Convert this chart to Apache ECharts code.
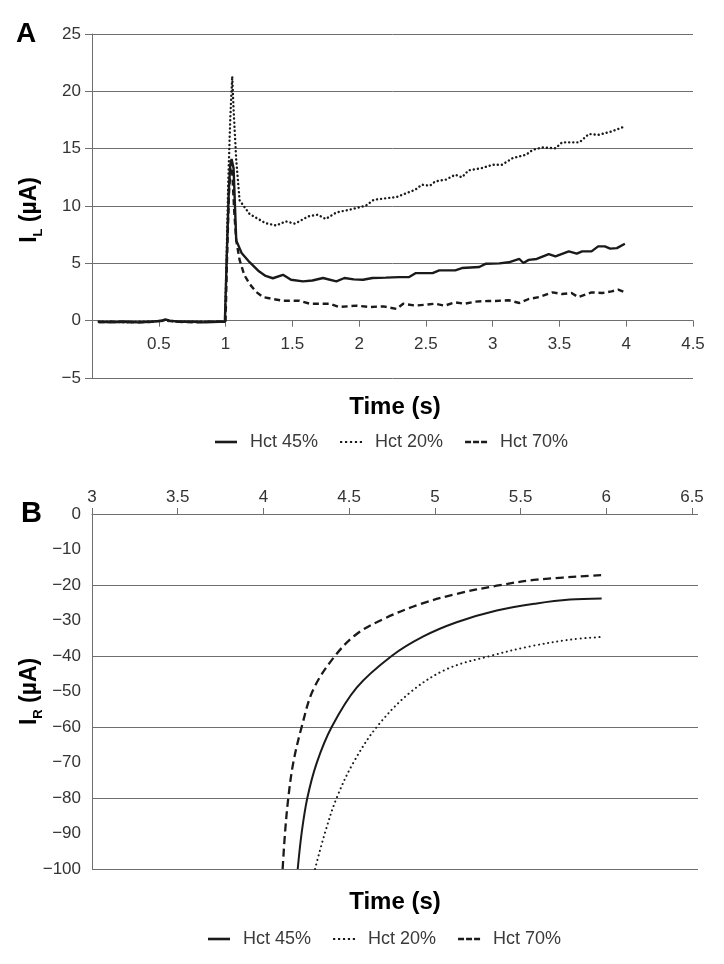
<!DOCTYPE html>
<html>
<head>
<meta charset="utf-8">
<script src="https://cdn.jsdelivr.net/npm/echarts@6/dist/echarts.min.js"></script>
<style>
html,body{margin:0;padding:0;background:#fff;}
#chart{width:724px;height:964px;}
</style>
</head>
<body>
<div id="chart"></div>
<script>
// ---------- Panel A data (I_L vs time) ----------
const seriesNames = ['Hct 45%', 'Hct 20%', 'Hct 70%'];

const aTime45 = [0.05,0.15,0.25,0.35,0.45,0.52,0.55,0.58,0.65,0.75,0.85,0.95,0.995,1.01,1.025,1.035,1.045,1.06,1.08,1.12,1.18,1.25,1.3,1.354,1.43,1.49,1.58,1.65,1.73,1.83,1.89,1.96,2.03,2.1,2.2,2.3,2.375,2.425,2.55,2.6,2.72,2.77,2.9,2.95,3.05,3.12,3.2,3.23,3.27,3.33,3.42,3.47,3.57,3.63,3.67,3.74,3.79,3.84,3.88,3.93,3.99];
const aHct45 = [-0.1,-0.15,-0.1,-0.15,-0.1,0,0.1,0,-0.1,-0.1,-0.15,-0.1,-0.1,6,11.5,13.5,14.1,13.3,7.0,5.9,5.1,4.3,3.9,3.7,4.0,3.57,3.43,3.5,3.72,3.43,3.72,3.6,3.57,3.72,3.75,3.8,3.8,4.15,4.15,4.39,4.39,4.59,4.68,4.97,5.0,5.09,5.38,5.03,5.3,5.38,5.81,5.61,6.04,5.84,6.04,6.04,6.48,6.48,6.28,6.33,6.71];

const aTime20 = [0.05,0.15,0.25,0.35,0.45,0.55,0.65,0.75,0.85,0.95,0.995,1.005,1.02,1.035,1.05,1.06,1.08,1.105,1.18,1.3,1.38,1.45,1.52,1.62,1.69,1.75,1.83,1.93,2.05,2.11,2.28,2.42,2.47,2.53,2.57,2.65,2.72,2.77,2.82,2.92,3.0,3.07,3.15,3.25,3.3,3.37,3.47,3.52,3.65,3.72,3.79,3.89,3.99];
const aHct20 = [-0.1,-0.1,-0.15,-0.1,-0.1,0.05,-0.1,-0.1,-0.1,-0.1,-0.1,4,12,17.5,21.3,18.4,14.0,10.5,9.3,8.5,8.3,8.66,8.46,9.1,9.24,8.87,9.44,9.68,10.03,10.55,10.78,11.42,11.86,11.77,12.15,12.3,12.73,12.5,13.11,13.31,13.6,13.6,14.18,14.47,14.9,15.1,15.03,15.55,15.55,16.28,16.2,16.5,16.94];

const aTime70 = [0.05,0.15,0.25,0.35,0.45,0.55,0.65,0.75,0.85,0.95,1.0,1.01,1.025,1.04,1.05,1.065,1.08,1.105,1.14,1.18,1.23,1.28,1.35,1.43,1.55,1.63,1.78,1.85,1.98,2.08,2.18,2.28,2.33,2.42,2.57,2.64,2.72,2.79,2.87,2.97,3.02,3.12,3.2,3.27,3.35,3.45,3.52,3.59,3.64,3.74,3.82,3.89,3.94,3.99];
const aHct70 = [-0.15,-0.1,-0.1,-0.15,-0.1,0,-0.1,-0.15,-0.1,-0.1,-0.1,5,11,13.8,13.0,9.5,7.0,5.3,4.0,3.2,2.5,2.06,1.9,1.74,1.74,1.48,1.48,1.19,1.31,1.19,1.25,1.02,1.48,1.31,1.48,1.31,1.6,1.48,1.66,1.72,1.72,1.78,1.54,1.89,2.06,2.47,2.32,2.41,2.06,2.47,2.41,2.55,2.7,2.47];

// ---------- Panel B data (I_R vs time) ----------
const bTime45 = [4.200,4.223,4.256,4.311,4.398,4.544,4.748,4.933,5.127,5.361,5.594,5.788,5.973];
const bHct45  = [-100,-89.8,-80,-70.1,-60,-48.9,-40,-34.5,-30.5,-27.2,-25.2,-24.1,-23.8];
const bTime20 = [4.301,4.359,4.427,4.524,4.661,4.855,5.069,5.322,5.555,5.788,5.983];
const bHct20  = [-100,-89.8,-80,-70.1,-60,-50.3,-43.7,-40,-37.3,-35.4,-34.6];
const bTime70 = [4.112,4.126,4.145,4.174,4.223,4.291,4.417,4.544,4.699,4.913,5.127,5.361,5.594,5.983];
const bHct70  = [-100,-89.8,-80,-70.1,-60,-49.4,-40,-33.8,-29.6,-25.4,-22.5,-20.2,-18.5,-17.2];

// ---------- Axis ticks ----------
const aXTicks = [0,0.5,1,1.5,2,2.5,3,3.5,4,4.5];
const aYTicks = [-5,0,5,10,15,20,25];
const bXTicks = [3,3.5,4,4.5,5,5.5,6,6.5];
const bYTicks = [-100,-90,-80,-70,-60,-50,-40,-30,-20,-10,0];

function zip(xs, ys){ return xs.map((x,i)=>[x, ys[i]]); }
const FONT = '"Liberation Sans", Arial, Helvetica, sans-serif';
const GRID = '#6f6f6f';
const LBL = '#333';
const INK = '#1a1a1a';
const minus = v => String(v).replace('-', '\u2212');

const styles = {
  'Hct 45%': {type:'solid', width:2.4},
  'Hct 20%': {type:[0.1,4], width:2.4, cap:'round'},
  'Hct 70%': {type:[6,3.8], width:2.4}
};
const stylesB = {
  'Hct 45%': {type:'solid', width:2},
  'Hct 20%': {type:[0.1,4.6], width:2, cap:'round'},
  'Hct 70%': {type:[8,4.5], width:2.3}
};

function lineSeries(name, data, xi, yi, st, smooth){
  return {
    name, type:'line', data, xAxisIndex:xi, yAxisIndex:yi,
    symbol:'none', showSymbol:false, smooth: smooth ? 0.35 : false,
    lineStyle: Object.assign({color: INK}, st[name]),
    itemStyle: {color: INK},
    emphasis: {disabled:true}, animation:false
  };
}

// legend icons (line sample shapes)
const legendIcons = {
  'Hct 45%': 'path://M0,0H22V2.6H0Z',
  'Hct 20%': 'path://M0,0.2h2.2v2.2h-2.2zM4.95,0.2h2.2v2.2h-2.2zM9.9,0.2h2.2v2.2h-2.2zM14.85,0.2h2.2v2.2h-2.2zM19.8,0.2h2.2v2.2h-2.2zM0,0h0.01v2.6h-0.01z',
  'Hct 70%': 'path://M0,0h6v2.6h-6zM8,0h6v2.6h-6zM16,0h6v2.6h-6z'
};

const chart = echarts.init(document.getElementById('chart'), null, {renderer:'canvas'});
function makeLegend(left, top){
  return {
    left, top,
    data: seriesNames.map(n => ({name:n, icon: legendIcons[n]})),
    itemWidth: 22, itemHeight: 3, itemGap: 22, symbolKeepAspect: true,
    itemStyle: {color: INK},
    textStyle: {fontFamily: FONT, fontSize: 18, color: '#3a3a3a', padding:[0,0,0,8]},
    selectedMode: false
  };
}

function yTitle(cx, cy, sub, subW){
  const main = 'bold 23px ' + FONT;
  const small = 'bold 13px ' + FONT;
  const wI = 6.4, wRest = 52.4;
  const total = wI + subW + wRest;
  const x0 = -total/2;
  return {
    type:'group', x: cx, y: cy, rotation: Math.PI/2,
    children: [
      {type:'text', x: x0, y: 0, style:{text:'I', font: main, fill:'#000', align:'left', verticalAlign:'middle'}},
      {type:'text', x: x0 + wI, y: 8.6, style:{text: sub, font: small, fill:'#000', align:'left', verticalAlign:'middle'}},
      {type:'text', x: x0 + wI + subW, y: 0, style:{text:' (\u00b5A)', font: main, fill:'#000', align:'left', verticalAlign:'middle'}}
    ]
  };
}

const option = {
  animation: false,
  backgroundColor: '#fff',
  textStyle: {fontFamily: FONT},
  grid: [
    {left: 92, top: 34, width: 601, height: 344},
    {left: 92, top: 514, width: 600, height: 355}
  ],
  legend: [ makeLegend(210, 428), makeLegend(203, 925) ],
  xAxis: [
    {
      type:'value', gridIndex:0, min: aXTicks[0], max: aXTicks[aXTicks.length-1], interval: 0.5,
      position:'bottom', offset: -57.33,
      axisLine: {show:true, onZero:false, lineStyle:{color:GRID, width:1}},
      axisTick: {show:true, length:6, lineStyle:{color:GRID}},
      axisLabel: {fontSize:17, color:LBL, margin:15, formatter: v => v===0 ? '' : minus(v)},
      splitLine: {show:false}
    },
    {
      type:'value', gridIndex:1, position:'top', min: bXTicks[0], max: bXTicks[bXTicks.length-1], interval: 0.5,
      axisLine: {show:true, onZero:false, lineStyle:{color:GRID, width:1}},
      axisTick: {show:true, length:6, lineStyle:{color:GRID}},
      axisLabel: {fontSize:17, color:LBL, margin:8, formatter: v => minus(v)},
      splitLine: {show:false}
    }
  ],
  yAxis: [
    {
      type:'value', gridIndex:0, min: aYTicks[0], max: aYTicks[aYTicks.length-1], interval: 5,
      axisLine: {show:true, onZero:false, lineStyle:{color:GRID, width:1}},
      axisTick: {show:true, length:7, lineStyle:{color:GRID}},
      axisLabel: {fontSize:17, color:LBL, margin:11, formatter: v => minus(v)},
      splitLine: {show:true, lineStyle:{color:GRID, width:1}}
    },
    {
      type:'value', gridIndex:1, min: bYTicks[0], max: bYTicks[bYTicks.length-1], interval: 10,
      axisLine: {show:true, onZero:false, lineStyle:{color:GRID, width:1}},
      axisTick: {show:false},
      axisLabel: {fontSize:17, color:LBL, margin:11, formatter: v => minus(v)},
      splitLine: {show:false}
    },
    {
      type:'value', gridIndex:1, min: bYTicks[0], max: bYTicks[bYTicks.length-1], interval: 20,
      axisLine: {show:false, onZero:false},
      axisTick: {show:true, length:6, lineStyle:{color:GRID}},
      axisLabel: {show:false},
      splitLine: {show:true, lineStyle:{color:GRID, width:1}}
    }
  ],
  series: [
    lineSeries('Hct 45%', zip(aTime45, aHct45), 0, 0, styles, false),
    lineSeries('Hct 20%', zip(aTime20, aHct20), 0, 0, styles, false),
    lineSeries('Hct 70%', zip(aTime70, aHct70), 0, 0, styles, false),
    lineSeries('Hct 45%', zip(bTime45, bHct45), 1, 1, stylesB, true),
    lineSeries('Hct 20%', zip(bTime20, bHct20), 1, 1, stylesB, true),
    lineSeries('Hct 70%', zip(bTime70, bHct70), 1, 1, stylesB, true)
  ],
  graphic: [
    {type:'text', left: 16, top: 20, style:{text:'A', font:'bold 28px ' + FONT, fill:'#000'}},
    {type:'text', left: 21, top: 499, style:{text:'B', font:'bold 29px ' + FONT, fill:'#000'}},
    {type:'text', x: 395, y: 407, style:{text:'Time (s)', font:'bold 24px ' + FONT, fill:'#000', align:'center', verticalAlign:'middle'}},
    {type:'text', x: 395, y: 902, style:{text:'Time (s)', font:'bold 24px ' + FONT, fill:'#000', align:'center', verticalAlign:'middle'}},
    yTitle(30, 209.5, 'L', 7.9),
    yTitle(30, 691, 'R', 9.4)
  ]
};
chart.setOption(option);
</script>
</body>
</html>
